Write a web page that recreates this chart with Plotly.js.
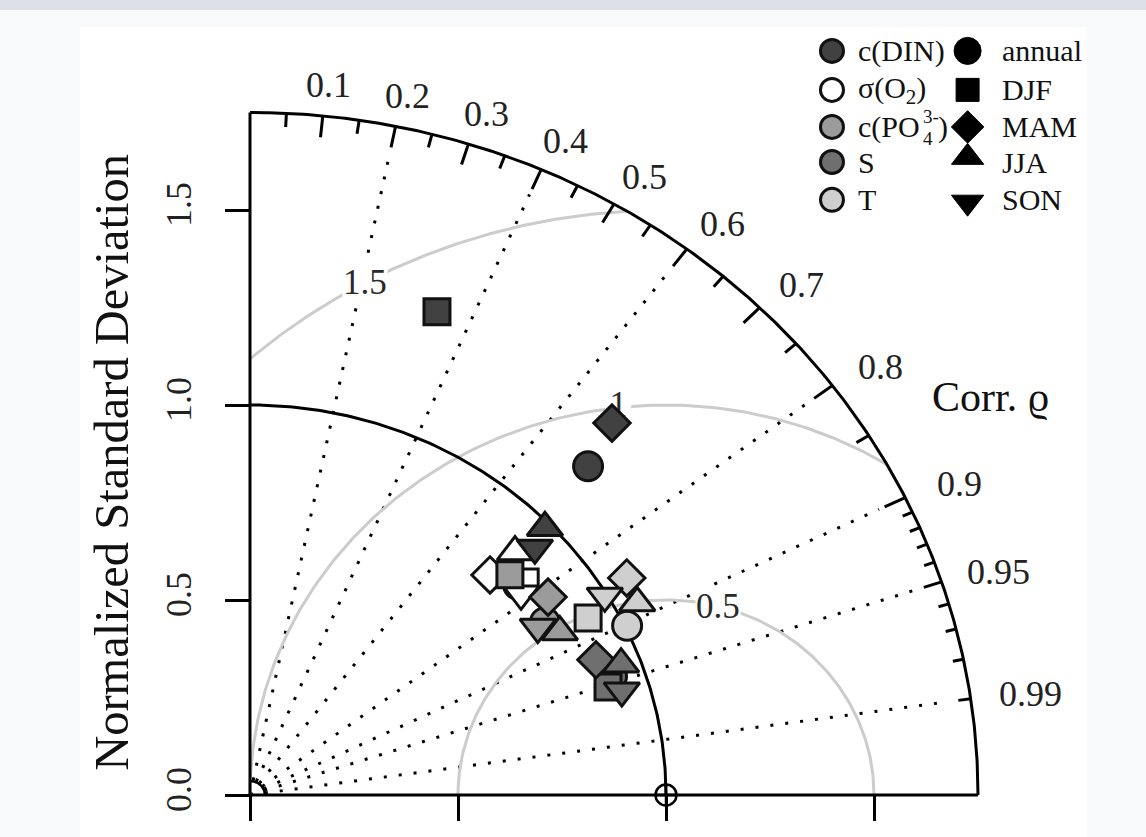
<!DOCTYPE html>
<html><head><meta charset="utf-8">
<script src="https://cdn.plot.ly/plotly-3.0.1.min.js"></script>
<style>html,body{margin:0;padding:0;background:#f8f9fa}</style>
</head><body><div id="chart" style="width:1146px;height:837px"></div>
<script>
// ---- data: normalized standard deviation and correlation per variable, per season ----
const seasons   = ['annual','DJF','MAM','JJA','SON'];
const symbols   = ['circle','square','diamond','triangle-up','triangle-down'];
const varNames  = ['c(DIN)','σ(O2)','c(PO4)','S','T'];
const sdDIN  = [1.171, 1.318, 1.291, 0.986, 0.933];
const corDIN = [0.694, 0.341, 0.674, 0.719, 0.734];
const sdO2   = [0.840, 0.858, 0.807, 0.891, 0.831];
const corO2  = [0.767, 0.771, 0.715, 0.715, 0.784];
const sdPO4  = [0.836, 0.842, 0.878, 0.854, 0.815];
const corPO4 = [0.848, 0.742, 0.816, 0.872, 0.849];
const sdS    = [0.922, 0.904, 0.901, 0.953, 0.933];
const corS   = [0.944, 0.952, 0.923, 0.936, 0.958];
const sdT    = [1.005, 0.931, 1.063, 1.053, 0.994];
const corT   = [0.902, 0.873, 0.852, 0.884, 0.858];
const sdTicks     = [0, 0.5, 1, 1.5];
const sdTickText  = ['0.0', '0.5', '1.0', '1.5'];
const corLabels   = [0.1, 0.2, 0.3, 0.4, 0.5, 0.6, 0.7, 0.8, 0.9, 0.95, 0.99];
const corMinor    = [0.05, 0.15, 0.25, 0.35, 0.45, 0.55, 0.65, 0.75, 0.85];
const corFine     = [0.91, 0.92, 0.93, 0.94, 0.96, 0.97, 0.98];
const corLines    = [0.2, 0.4, 0.6, 0.8, 0.9, 0.95, 0.99];
const rmsLevels   = [0.5, 1, 1.5];
const sdMax = 1.75;

// ---- styles ----
const FONT = 'Liberation Serif, Times New Roman, serif';
const fills = {'c(DIN)':'#414141','σ(O2)':'#ffffff','c(PO4)':'#9b9b9b','S':'#6f6f6f','T':'#cfcfcf'};
const symSize = {'circle':29,'square':26,'diamond':28,'triangle-up':31,'triangle-down':31};

const toXY = (sd, c) => [sd * c, sd * Math.sqrt(1 - c * c)];
function arcPts(cx, cy, r, t0, t1, n) {
  const xs = [], ys = [];
  for (let i = 0; i <= n; i++) { const t = t0 + (t1 - t0) * i / n; xs.push(cx + r * Math.cos(t)); ys.push(cy + r * Math.sin(t)); }
  return [xs, ys];
}
const traces = [];

// dotted correlation lines
{ const xs = [], ys = [];
  corLines.forEach(c => { const [x, y] = toXY(1.68, c); xs.push(0, x, null); ys.push(0, y, null); });
  traces.push({x: xs, y: ys, mode: 'lines', line: {color: '#000', width: 3, dash: '3px,12px'}, hoverinfo: 'skip'}); }

// RMSD arcs around reference
{ const xs = [], ys = [];
  rmsLevels.forEach(R => {
    const xi = (sdMax * sdMax - R * R + 1) / 2;
    const tmin = Math.abs(xi - 1) <= R ? Math.acos((xi - 1) / R) : 0;
    const tmax = R > 1 ? Math.acos(-1 / R) : Math.PI;
    const [ax, ay] = arcPts(1, 0, R, tmin, tmax, 200);
    xs.push(...ax, null); ys.push(...ay, null);
  });
  traces.push({x: xs, y: ys, mode: 'lines', line: {color: '#cccccc', width: 3}, hoverinfo: 'skip'}); }

// SD = 1 arc, outer arc, small origin arc, axes
{ const [ux, uy] = arcPts(0, 0, 1, 0, Math.PI / 2, 200);
  traces.push({x: ux, y: uy, mode: 'lines', line: {color: '#000', width: 3}, hoverinfo: 'skip'});
  const [ox, oy] = arcPts(0, 0, sdMax, 0, Math.PI / 2, 300);
  traces.push({x: ox, y: oy, mode: 'lines', line: {color: '#000', width: 3}, hoverinfo: 'skip'});
  const [sx, sy] = arcPts(0, 0, 0.036, 0, Math.PI / 2, 40);
  traces.push({x: sx, y: sy, mode: 'lines', line: {color: '#000', width: 2.5}, hoverinfo: 'skip'});
  traces.push({x: [0, 0, null, 0, sdMax], y: [sdMax, 0, null, 0, 0], mode: 'lines', line: {color: '#000', width: 3}, hoverinfo: 'skip'}); }

// correlation tick marks
{ const xs = [], ys = [];
  const add = (c, len) => { const [x1, y1] = toXY(sdMax, c), [x0, y0] = toXY(sdMax - len, c); xs.push(x0, x1, null); ys.push(y0, y1, null); };
  corLabels.forEach(c => add(c, c === 0.99 ? 0.03 : (c === 0.95 ? 0.045 : 0.055)));
  corMinor.forEach(c => add(c, 0.035));
  corFine.forEach(c => add(c, 0.026));
  traces.push({x: xs, y: ys, mode: 'lines', line: {color: '#000', width: 3}, hoverinfo: 'skip'}); }

// RMSD label "1" in the trace layer (markers cover it)
const rmsAngle = {'0.5': 75.4, '1': 96.6, '1.5': 118.8};
{ const R = 1, t = rmsAngle['1'] * Math.PI / 180;
  const p = [1 + R * Math.cos(t), R * Math.sin(t)];
  traces.push({x: [p[0]], y: [p[1]], mode: 'markers', marker: {symbol: 'square', size: 26, color: '#fff', opacity: 1}, hoverinfo: 'skip'});
  traces.push({x: [p[0]], y: [p[1]], mode: 'text', text: ['1'], textfont: {family: FONT, size: 35, color: '#2a2a2a'}, hoverinfo: 'skip'}); }

// reference point
traces.push({x: [1], y: [0], mode: 'markers', marker: {symbol: 'circle-cross-open', size: 21, color: '#000', opacity: 1, line: {width: 2.5, color: '#000'}}, hoverinfo: 'skip'});

// data markers (drawn in this order: O2, DIN, PO4, S, T)
const series = [['σ(O2)', sdO2, corO2], ['c(DIN)', sdDIN, corDIN], ['c(PO4)', sdPO4, corPO4], ['S', sdS, corS], ['T', sdT, corT]];
series.forEach(([name, sds, cors]) => {
  sds.forEach((sd, i) => {
    const [x, y] = toXY(sd, cors[i]);
    traces.push({x: [x], y: [y], mode: 'markers', name: name + ' ' + seasons[i],
      marker: {symbol: symbols[i], size: symSize[symbols[i]], color: fills[name], opacity: 1, line: {color: '#111', width: 3}},
      hovertemplate: name + ' ' + seasons[i] + '<br>SD %{customdata[0]}<br>r %{customdata[1]}<extra></extra>',
      customdata: [[sd, cors[i]]]});
  });
});

// legend (drawn in data space, top right)
const legRowsY = [1.908, 1.808, 1.713, 1.623, 1.526];
const legLeftX = 1.399, legRightX = 1.725;
traces.push({x: legRowsY.map(() => legLeftX), y: legRowsY, mode: 'markers', hoverinfo: 'skip',
  marker: {symbol: 'circle', size: 23, opacity: 1, color: varNames.map(v => fills[v]), line: {color: '#111', width: 3}}});
traces.push({x: legRowsY.map(() => legRightX), y: legRowsY.map((v, i) => v + (i === 3 ? 0.012 : (i === 4 ? -0.006 : 0))), mode: 'markers', hoverinfo: 'skip',
  marker: {symbol: symbols, size: [27, 23, 25, 28, 28], opacity: 1, color: '#000', line: {color: '#000', width: 1}}});

const annotations = [];
// correlation labels: placed just outside the outer arc
corLabels.forEach(c => {
  const [x, y] = toXY(sdMax, c);
  const s = Math.sqrt(1 - c * c);
  annotations.push({x, y, xshift: 60 * c, yshift: 31 * s, text: String(c), showarrow: false, xanchor: 'center', yanchor: 'middle',
    font: {family: FONT, size: 36, color: '#222'}});
});
// RMSD labels with white background
['0.5', '1.5'].forEach(lbl => {
  const R = parseFloat(lbl), t = rmsAngle[lbl] * Math.PI / 180;
  annotations.push({x: 1 + R * Math.cos(t), y: R * Math.sin(t), text: lbl, showarrow: false, bgcolor: '#fff', borderpad: 0,
    font: {family: FONT, size: 35, color: '#2a2a2a'}});
});
annotations.push({x: 1.779, y: 1.021, text: 'Corr. ϱ', showarrow: false, font: {family: FONT, size: 42, color: '#111'}});
annotations.push({x: -0.332, y: 0.854, text: 'Normalized Standard Deviation', textangle: -90, showarrow: false,
  font: {family: FONT, size: 48.5, color: '#111'}});
// legend text
const legTextL = ['c(DIN)', 'σ(O<sub>2</sub>)', 'c(PO', 'S', 'T'];
const legTextR = seasons;
const txL = 1.457, txR = 1.802;
legTextL.forEach((t, i) => annotations.push({x: txL, y: legRowsY[i], text: t, showarrow: false, xanchor: 'left', yanchor: 'middle', font: {family: FONT, size: 30, color: '#111'}}));
annotations.push({x: 1.612, y: legRowsY[2] + 0.028, text: '3-', showarrow: false, xanchor: 'left', font: {family: FONT, size: 19, color: '#111'}});
annotations.push({x: 1.612, y: legRowsY[2] - 0.03, text: '4', showarrow: false, xanchor: 'left', font: {family: FONT, size: 19, color: '#111'}});
annotations.push({x: 1.648, y: legRowsY[2], text: ')', showarrow: false, xanchor: 'left', font: {family: FONT, size: 30, color: '#111'}});
legTextR.forEach((t, i) => annotations.push({x: txR, y: legRowsY[i], text: t, showarrow: false, xanchor: 'left', yanchor: 'middle', font: {family: FONT, size: 30, color: '#111'}}));

const layout = {
  width: 1146, height: 837, margin: {l: 0, r: 0, t: 0, b: 0},
  paper_bgcolor: '#f8f9fa', plot_bgcolor: 'rgba(0,0,0,0)', showlegend: false,
  xaxis: {range: [-250 / 416, 896 / 416], anchor: 'free', position: 42 / 837, showgrid: false, zeroline: false, showline: false,
    ticks: 'outside', ticklen: 25, tickwidth: 2.5, tickcolor: '#000', tickvals: sdTicks, showticklabels: false, fixedrange: true},
  yaxis: {range: [-42 / 390, 795 / 390], anchor: 'free', position: 250 / 1146, showgrid: false, zeroline: false, showline: false,
    ticks: 'outside', ticklen: 25, tickwidth: 2.5, tickcolor: '#000', tickvals: sdTicks, ticktext: sdTickText, tickangle: -90,
    ticklabelstandoff: 20, tickfont: {family: FONT, size: 36, color: '#222'}, fixedrange: true},
  shapes: [
    {type: 'rect', xref: 'paper', yref: 'paper', x0: 0, x1: 1, y0: 1 - 10 / 837, y1: 1, fillcolor: '#dde1e7', line: {width: 0}, layer: 'below'},
    {type: 'rect', xref: 'paper', yref: 'paper', x0: 80 / 1146, x1: 1087 / 1146, y0: 0, y1: 1 - 27 / 837, fillcolor: '#ffffff', line: {width: 0}, layer: 'below'}
  ],
  annotations
};
Plotly.newPlot('chart', traces, layout, {displayModeBar: false});
</script></body></html>
